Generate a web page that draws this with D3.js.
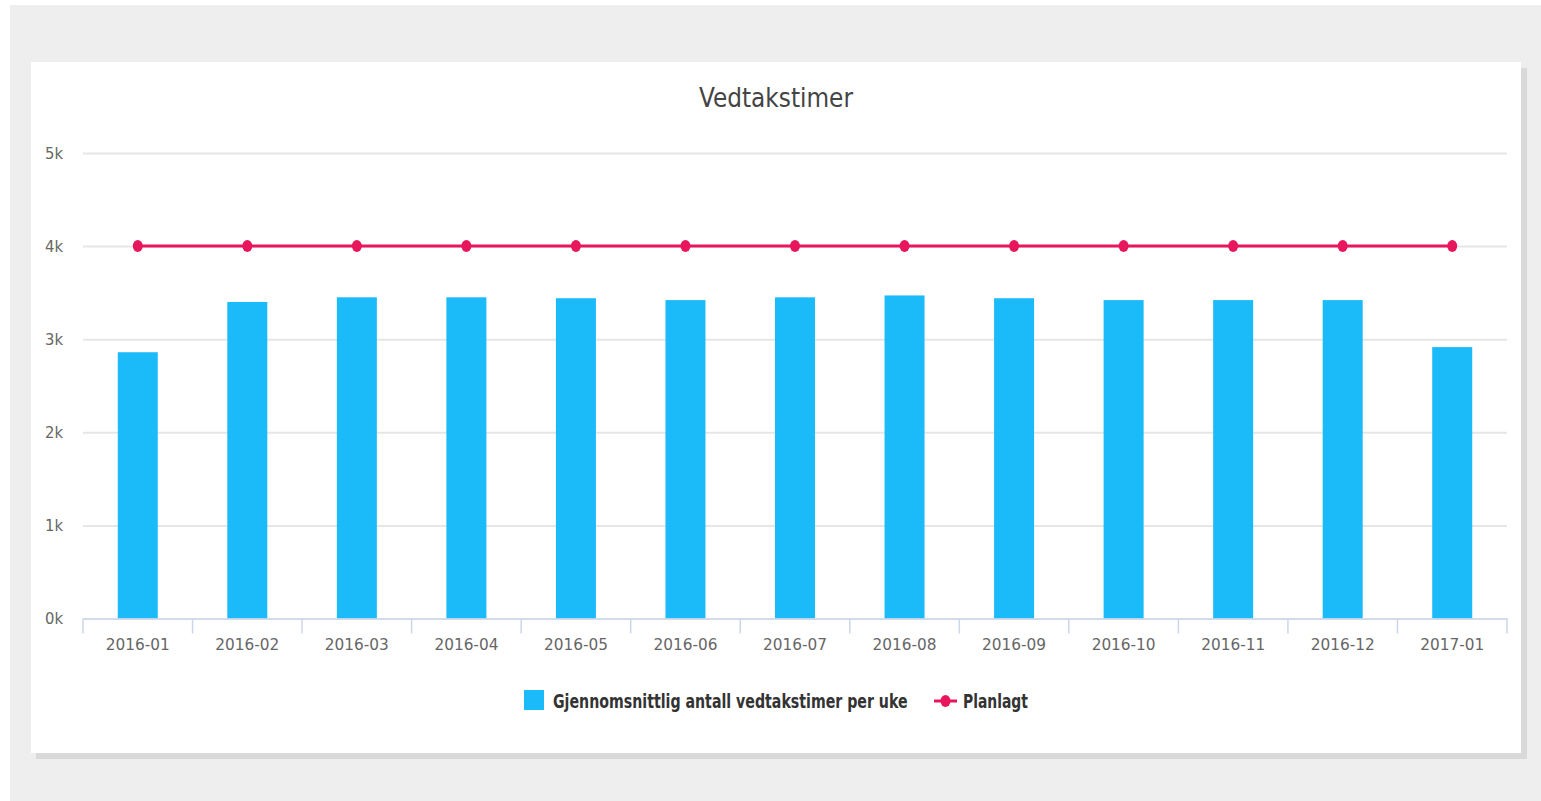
<!DOCTYPE html>
<html>
<head>
<meta charset="utf-8">
<script src="https://cdn.jsdelivr.net/npm/d3@7"></script>
<style>
  html, body { margin: 0; padding: 0; background: #fff; }
  #bg { position: absolute; left: 10px; top: 5px; width: 1531px; height: 796px; background: #eeeeee; }
  svg { position: absolute; left: 0; top: 0; }
</style>
</head>
<body>
<div id="bg"></div>
<svg id="chart" width="1541" height="801"></svg>
<script>
const categories = ["2016-01","2016-02","2016-03","2016-04","2016-05","2016-06","2016-07","2016-08","2016-09","2016-10","2016-11","2016-12","2017-01"];
const avgHours = [2860, 3400, 3450, 3450, 3440, 3420, 3450, 3470, 3440, 3420, 3420, 3420, 2915];
const planned = [4000, 4000, 4000, 4000, 4000, 4000, 4000, 4000, 4000, 4000, 4000, 4000, 4000];
const yTicks = [0, 1000, 2000, 3000, 4000, 5000];
const titleText = "Vedtakstimer";
const seriesNames = ["Gjennomsnittlig antall vedtakstimer per uke", "Planlagt"];

(function () {
const svg = d3.select("#chart");
const fontMain = "'DejaVu Sans Condensed', 'Liberation Sans Narrow', sans-serif";

// squeeze a text horizontally (about its anchor x) to a target width
function fitWidth(sel, target) {
  sel.each(function () {
    const w = this.getComputedTextLength();
    if (!w) return;
    const s = target / w;
    const ax = +this.getAttribute("x") || 0;
    this.setAttribute("transform", `translate(${ax},0) scale(${s},1) translate(${-ax},0)`);
  });
}

// card shadow + card
svg.append("rect").attr("x", 36).attr("y", 68).attr("width", 1491).attr("height", 691).attr("fill", "#d9d9d9");
svg.append("rect").attr("x", 31).attr("y", 62).attr("width", 1490).attr("height", 691).attr("fill", "#ffffff");

const pLeft = 83, pRight = 1507, pTop = 153, pBottom = 618.5;
const x = d3.scaleBand().domain(categories).range([pLeft, pRight]).paddingInner(0).paddingOuter(0);
const y = d3.scaleLinear().domain([0, 5000]).range([pBottom, pTop]);

// title
svg.append("text").attr("x", 776).attr("y", 107).attr("text-anchor", "middle")
  .attr("font-family", fontMain).attr("font-size", 26).attr("fill", "#444")
  .text(titleText).call(fitWidth, 154);

// grid
const yAxis = d3.axisLeft(y).tickValues(yTicks).tickSize(-(pRight - pLeft)).tickFormat(d => (d / 1000) + "k");
const gy = svg.append("g").attr("transform", `translate(${pLeft},0)`).call(yAxis);
gy.select(".domain").remove();
gy.selectAll(".tick line").attr("stroke", "#e6e6e6").attr("stroke-width", 2);
gy.selectAll(".tick text").attr("x", -20).attr("dy", "0.35em").attr("font-family", fontMain)
  .attr("font-size", 15).attr("fill", "#666").call(fitWidth, 18);

// bars
const barW = 40;
svg.append("g").selectAll("rect").data(avgHours).join("rect")
  .attr("x", (d, i) => x(categories[i]) + x.bandwidth() / 2 - barW / 2)
  .attr("y", d => y(d))
  .attr("width", barW)
  .attr("height", d => y(0) - y(d))
  .attr("fill", "#1bbbf9");

// x axis
const xAxis = d3.axisBottom(x).tickSize(0).tickSizeOuter(0);
const gx = svg.append("g").attr("transform", `translate(0,${pBottom})`).call(xAxis);
gx.select(".domain").attr("stroke", "#ccd6eb").attr("stroke-width", 1.5);
gx.selectAll(".tick text").attr("y", 26).attr("dy", "0.35em").attr("font-family", fontMain)
  .attr("font-size", 16).attr("fill", "#666").call(fitWidth, 64);
const boundaries = categories.map(c => x(c)).concat([pRight]);
gx.append("g").selectAll("line").data(boundaries).join("line")
  .attr("x1", d => d).attr("x2", d => d).attr("y1", 0).attr("y2", 15)
  .attr("stroke", "#ccd6eb").attr("stroke-width", 1.5);

// planned line
const line = d3.line().x((d, i) => x(categories[i]) + x.bandwidth() / 2).y(d => y(d));
svg.append("path").datum(planned).attr("d", line).attr("fill", "none")
  .attr("stroke", "#e8175d").attr("stroke-width", 3);
svg.append("g").selectAll("ellipse").data(planned).join("ellipse")
  .attr("cx", (d, i) => x(categories[i]) + x.bandwidth() / 2)
  .attr("cy", d => y(d)).attr("rx", 5).attr("ry", 6).attr("fill", "#e8175d");

// legend
const lg = svg.append("g");
lg.append("rect").attr("x", 524).attr("y", 690).attr("width", 20).attr("height", 20).attr("fill", "#1bbbf9");
lg.append("text").attr("x", 553).attr("y", 708).attr("font-family", fontMain).attr("font-weight", "bold")
  .attr("font-size", 19).attr("fill", "#333").text(seriesNames[0]).call(fitWidth, 355);
lg.append("line").attr("x1", 934).attr("x2", 957).attr("y1", 701).attr("y2", 701)
  .attr("stroke", "#e8175d").attr("stroke-width", 3);
lg.append("ellipse").attr("cx", 945.5).attr("cy", 701).attr("rx", 5).attr("ry", 6).attr("fill", "#e8175d");
lg.append("text").attr("x", 963).attr("y", 708).attr("font-family", fontMain).attr("font-weight", "bold")
  .attr("font-size", 19).attr("fill", "#333").text(seriesNames[1]).call(fitWidth, 65);
})();
</script>
</body>
</html>
